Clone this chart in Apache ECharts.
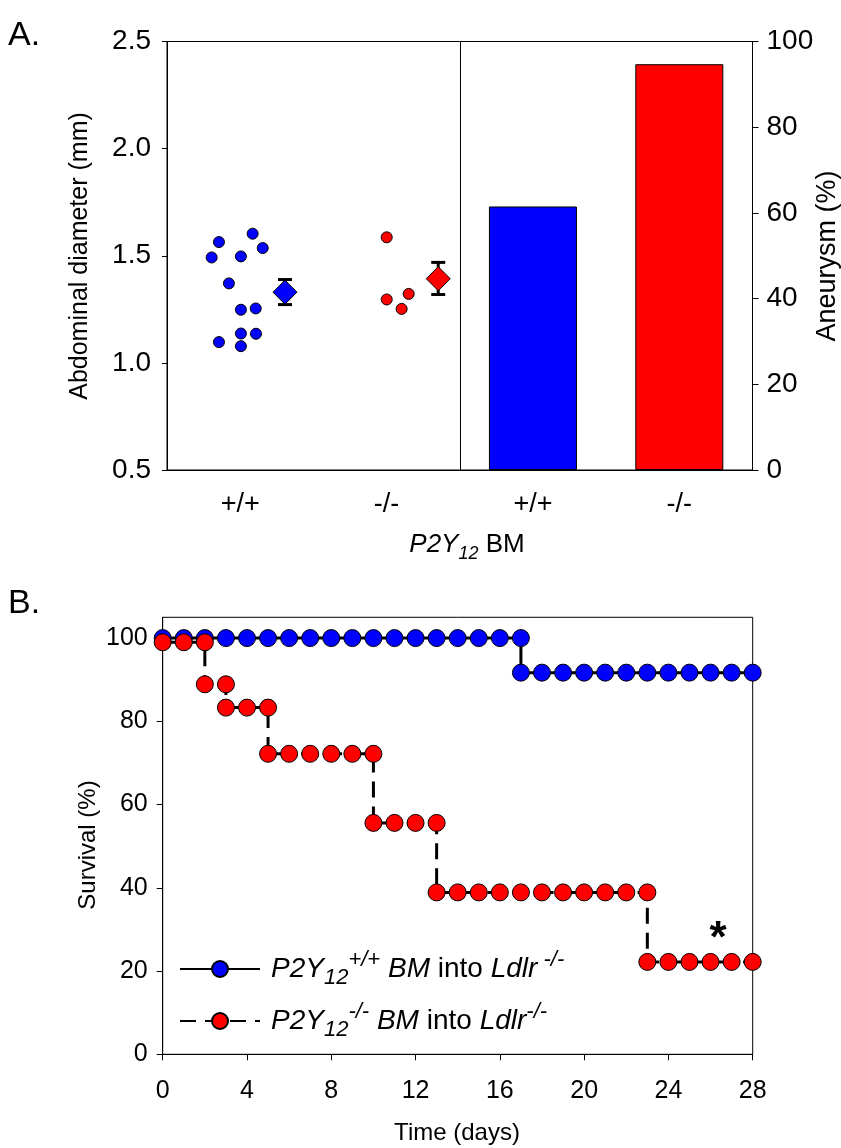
<!DOCTYPE html>
<html>
<head>
<meta charset="utf-8">
<script src="https://cdn.jsdelivr.net/npm/echarts@6/dist/echarts.min.js"></script>
<style>
html,body{margin:0;padding:0;background:#fff;}
#chart{width:841px;height:1148px;}
</style>
</head>
<body>
<div id="chart"></div>
<script>
// ---------- Panel A data ----------
const genotypeCats = ['+/+', '-/-', '+/+', '-/-'];
const diamTicks = [0.5, 1.0, 1.5, 2.0, 2.5];
// individual abdominal diameters (mm)
const wtDiam = [1.564, 1.603, 1.492, 1.497, 1.536, 1.371, 1.248, 1.254, 1.137, 1.136, 1.097, 1.078];
const wtJitter = [-0.145, 0.085, -0.195, 0.005, 0.154, -0.077, 0.005, 0.106, 0.005, 0.108, -0.145, 0.005];
const koDiam = [1.586, 1.296, 1.322, 1.252];
const koJitter = [0.001, 0.001, 0.151, 0.103];
// mean +/- SEM
const wtMean = 1.330, wtLow = 1.272, wtHigh = 1.389, wtMeanOffset = 0.306;
const koMean = 1.393, koLow = 1.319, koHigh = 1.469, koMeanOffset = 0.353;
// aneurysm incidence (%), drawn in categories 3 and 4
const aneurysmCatIndex = [2, 3];
const aneurysmPct = [61.5, 94.7];

// ---------- Panel B data ----------
const dayTicks = [0, 4, 8, 12, 16, 20, 24, 28];
const survTicks = [0, 20, 40, 60, 80, 100];
const wtDays = [0,1,2,3,4,5,6,7,8,9,10,11,12,13,14,15,16,17,17,18,19,20,21,22,23,24,25,26,27,28];
const wtSurv = [100,100,100,100,100,100,100,100,100,100,100,100,100,100,100,100,100,100,
                91.7,91.7,91.7,91.7,91.7,91.7,91.7,91.7,91.7,91.7,91.7,91.7];
const koDays = [0,1,2,2,3,3,4,5,5,6,7,8,9,10,10,11,12,13,13,14,15,16,17,18,19,20,21,22,23,23,24,25,26,27,28];
const koSurv = [99,99,99,88.9,88.9,83.3,83.3,83.3,72.2,72.2,72.2,72.2,72.2,72.2,55.6,55.6,55.6,55.6,
                38.9,38.9,38.9,38.9,38.9,38.9,38.9,38.9,38.9,38.9,38.9,22.2,22.2,22.2,22.2,22.2,22.2];
const wtName = 'P2Y12+/+ BM into Ldlr-/-';
const koName = 'P2Y12-/- BM into Ldlr-/-';
const legendRich = {};
legendRich[wtName] = '{f|P2Y}{sb|12}{sp|+/+}{i| BM }{n|into }{i|Ldlr}{sp| -/-}';
legendRich[koName] = '{f|P2Y}{sb|12}{sp|-/-}{i| BM }{n|into }{i|Ldlr}{sp|-/-}';

const FONT = "'Liberation Sans', Arial, Helvetica, sans-serif";
const BLUE = '#0000ff', RED = '#ff0000';
const barColors = [BLUE, RED];

const pairs = (xs, ys) => xs.map((x, i) => [x, ys[i]]);

const chart = echarts.init(document.getElementById('chart'), null, {renderer: 'canvas'});

const axisBlack = {lineStyle: {color: '#000', width: 1}};
const option = {
  animation: false,
  backgroundColor: '#fff',
  textStyle: {fontFamily: FONT, color: '#000'},
  grid: [
    {left: 167, top: 41.5, width: 585.5, height: 428.5, show: true, borderColor: '#000', borderWidth: 1, backgroundColor: 'transparent'},
    {left: 162.7, top: 617.3, width: 590, height: 437, show: true, borderColor: '#000', borderWidth: 1, backgroundColor: 'transparent'}
  ],
  xAxis: [
    {type: 'category', gridIndex: 0, data: genotypeCats, boundaryGap: true,
     axisLine: axisBlack, axisTick: {alignWithLabel: true, length: 5, lineStyle: {color: '#000'}},
     axisLabel: {fontSize: 27, color: '#000', margin: 21, fontFamily: FONT}, splitLine: {show: false}},
    {type: 'value', gridIndex: 0, min: 0, max: 4, show: false},
    {type: 'value', gridIndex: 1, min: 0, max: 28, interval: 4,
     axisLine: axisBlack, axisTick: {length: 6, lineStyle: {color: '#000'}},
     axisLabel: {fontSize: 25, color: '#000', margin: 24, fontFamily: FONT}, splitLine: {show: false}}
  ],
  yAxis: [
    {type: 'value', gridIndex: 0, position: 'left', min: 0.5, max: 2.5, interval: 0.5,
     axisLine: {show: true, lineStyle: {color: '#000'}}, axisTick: {show: true, length: 5, lineStyle: {color: '#000'}},
     axisLabel: {fontSize: 28, color: '#000', margin: 16, fontFamily: FONT, formatter: v => v.toFixed(1)},
     splitLine: {show: false}},
    {type: 'value', gridIndex: 0, position: 'right', min: 0, max: 100, interval: 20,
     axisLine: {show: true, lineStyle: {color: '#000'}}, axisTick: {show: true, length: 6, lineStyle: {color: '#000'}},
     axisLabel: {fontSize: 28, color: '#000', margin: 14, fontFamily: FONT},
     splitLine: {show: false}},
    {type: 'value', gridIndex: 1, min: 0, max: 105, interval: 20,
     axisLine: {show: true, lineStyle: {color: '#000'}},
     axisTick: {show: true, length: 6, lineStyle: {color: '#000'}, customValues: survTicks},
     axisLabel: {fontSize: 25, color: '#000', margin: 15, fontFamily: FONT, customValues: survTicks},
     splitLine: {show: false}}
  ],
  legend: {
    data: [wtName, koName],
    orient: 'vertical', left: 174, top: 944,
    itemWidth: 80, itemHeight: 20, itemGap: 12,
    selectedMode: false,
    formatter: name => legendRich[name],
    textStyle: {
      color: '#000', fontFamily: FONT,
      rich: {
        f: {fontSize: 28, fontStyle: 'italic', fontFamily: FONT, lineHeight: 40, padding: [0, 0, 0, 6]},
        i: {fontSize: 28, fontStyle: 'italic', fontFamily: FONT, lineHeight: 40},
        n: {fontSize: 28, fontFamily: FONT, lineHeight: 40},
        sb: {fontSize: 22, fontStyle: 'italic', fontFamily: FONT, lineHeight: 24, verticalAlign: 'bottom'},
        sp: {fontSize: 22, fontStyle: 'italic', fontFamily: FONT, lineHeight: 24, verticalAlign: 'top'}
      }
    }
  },
  series: [
    {type: 'bar', xAxisIndex: 0, yAxisIndex: 1, barWidth: 88,
     data: aneurysmPct.map((v, i) => ({value: [aneurysmCatIndex[i], v], itemStyle: {color: barColors[i]}})),
     itemStyle: {borderColor: '#000', borderWidth: 1},
     silent: true, z: 2},
    {type: 'scatter', name: 'wtDots', xAxisIndex: 1, yAxisIndex: 0,
     data: wtDiam.map((v, i) => [0.5 + wtJitter[i], v]),
     symbol: 'circle', symbolSize: 11,
     itemStyle: {color: BLUE, borderColor: '#000', borderWidth: 1, opacity: 1},
     markLine: {silent: true, symbol: 'none', label: {show: false},
                lineStyle: {color: '#000', type: 'solid', width: 1},
                data: [{xAxis: 2}]},
     z: 3},
    {type: 'scatter', name: 'koDots', xAxisIndex: 1, yAxisIndex: 0,
     data: koDiam.map((v, i) => [1.5 + koJitter[i], v]),
     symbol: 'circle', symbolSize: 11,
     itemStyle: {color: RED, borderColor: '#000', borderWidth: 1, opacity: 1}, z: 3},
    {type: 'custom', name: 'sem', xAxisIndex: 1, yAxisIndex: 0,
     data: [[0.5 + wtMeanOffset, wtLow, wtHigh], [1.5 + koMeanOffset, koLow, koHigh]],
     renderItem: function (params, api) {
       const x = api.value(0);
       const lo = api.coord([x, api.value(1)]);
       const hi = api.coord([x, api.value(2)]);
       const w = 7;
       const st = {stroke: '#000', lineWidth: 3};
       return {type: 'group', children: [
         {type: 'line', shape: {x1: lo[0], y1: lo[1], x2: hi[0], y2: hi[1]}, style: st},
         {type: 'line', shape: {x1: lo[0] - w, y1: lo[1], x2: lo[0] + w, y2: lo[1]}, style: st},
         {type: 'line', shape: {x1: hi[0] - w, y1: hi[1], x2: hi[0] + w, y2: hi[1]}, style: st}
       ]};
     }, z: 4, silent: true},
    {type: 'scatter', name: 'means', xAxisIndex: 1, yAxisIndex: 0,
     data: [
       {value: [0.5 + wtMeanOffset, wtMean], itemStyle: {color: BLUE}},
       {value: [1.5 + koMeanOffset, koMean], itemStyle: {color: RED}}
     ],
     symbol: 'diamond', symbolSize: 24,
     itemStyle: {borderColor: '#000', borderWidth: 1, opacity: 1}, z: 5},
    {type: 'line', name: wtName, xAxisIndex: 2, yAxisIndex: 2,
     data: pairs(wtDays, wtSurv),
     symbol: 'circle', symbolSize: 17, showAllSymbol: true,
     lineStyle: {color: '#000', width: 3},
     itemStyle: {color: BLUE, borderColor: '#000', borderWidth: 1},
     z: 3},
    {type: 'line', name: koName, xAxisIndex: 2, yAxisIndex: 2,
     data: pairs(koDays, koSurv),
     symbol: 'circle', symbolSize: 17, showAllSymbol: true,
     lineStyle: {color: '#000', width: 3, type: [16, 9]},
     itemStyle: {color: RED, borderColor: '#000', borderWidth: 1},
     z: 4}
  ],
  graphic: [
    {type: 'text', x: 8, y: 36, style: {text: 'A.', fontSize: 34, fontFamily: FONT, fill: '#000', align: 'left', verticalAlign: 'middle'}},
    {type: 'text', x: 8, y: 604, style: {text: 'B.', fontSize: 34, fontFamily: FONT, fill: '#000', align: 'left', verticalAlign: 'middle'}},
    {type: 'text', x: 80, y: 256, rotation: Math.PI / 2,
     style: {text: 'Abdominal diameter (mm)', fontSize: 25, fontFamily: FONT, fill: '#000', align: 'center', verticalAlign: 'middle'}},
    {type: 'text', x: 828, y: 256, rotation: Math.PI / 2,
     style: {text: 'Aneurysm (%)', fontSize: 27, fontFamily: FONT, fill: '#000', align: 'center', verticalAlign: 'middle'}},
    {type: 'text', x: 467, y: 545,
     style: {text: '{i|P2Y}{s|12}{n| BM}', fill: '#000', align: 'center', verticalAlign: 'middle',
             rich: {
               i: {fontSize: 26, fontStyle: 'italic', fontFamily: FONT, lineHeight: 36},
               n: {fontSize: 26, fontFamily: FONT, lineHeight: 36},
               s: {fontSize: 18, fontStyle: 'italic', fontFamily: FONT, lineHeight: 20, verticalAlign: 'bottom'}
             }}},
    {type: 'text', x: 88, y: 845, rotation: Math.PI / 2,
     style: {text: 'Survival (%)', fontSize: 24, fontFamily: FONT, fill: '#000', align: 'center', verticalAlign: 'middle'}},
    {type: 'text', x: 457, y: 1133,
     style: {text: 'Time (days)', fontSize: 24, fontFamily: FONT, fill: '#000', align: 'center', verticalAlign: 'middle'}},
    {type: 'text', x: 718, y: 940,
     style: {text: '*', fontSize: 44, fontWeight: 'bold', fontFamily: FONT, fill: '#000', align: 'center', verticalAlign: 'middle'}}
  ]
};
chart.setOption(option);
</script>
</body>
</html>
